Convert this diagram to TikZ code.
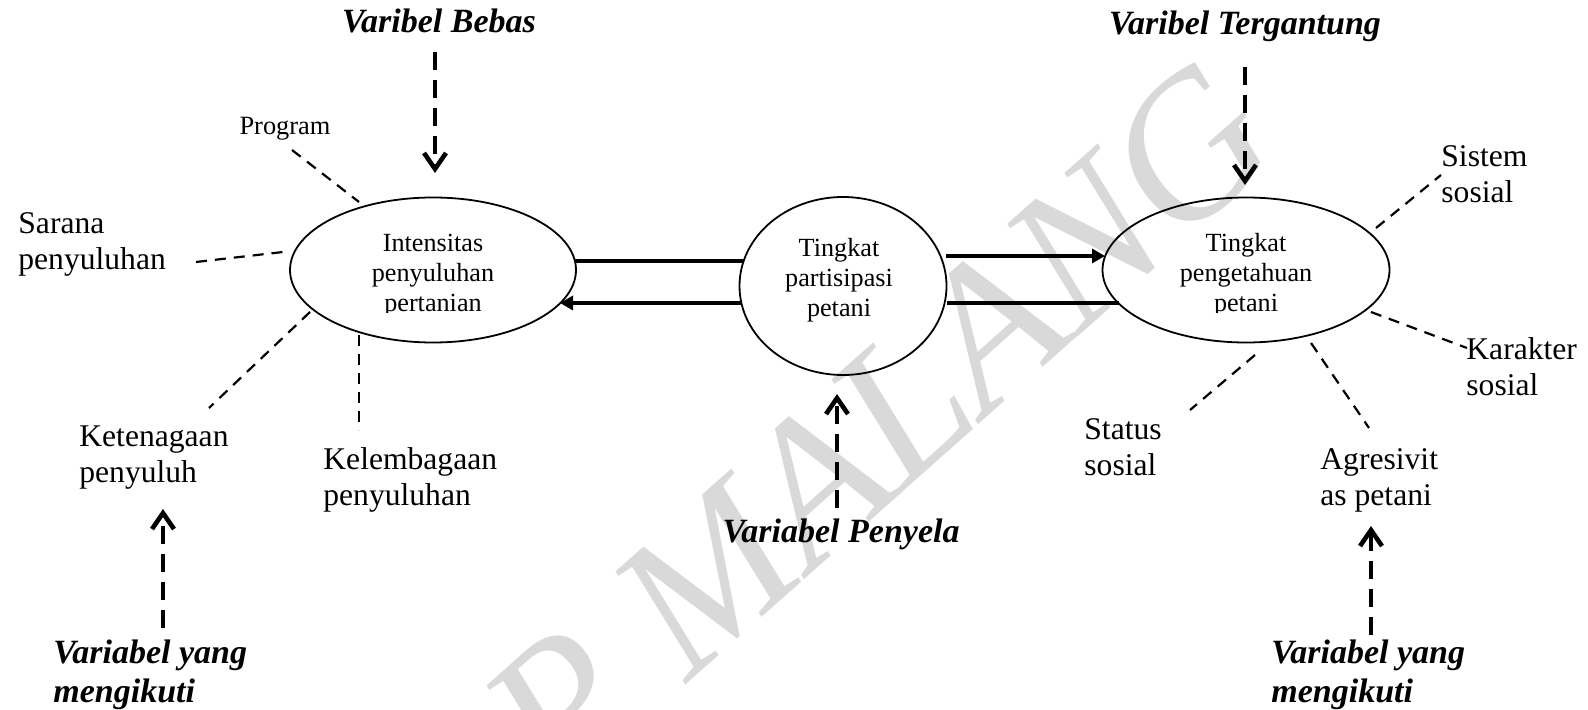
\documentclass[tikz,border=0pt]{standalone}
\usepackage{fontspec}
\setmainfont{Liberation Serif}
\usetikzlibrary{shapes.geometric, arrows.meta}
\begin{document}
\begin{tikzpicture}[x=0.5pt, y=-0.5pt,
  ell/.style={draw, ellipse, line width=0.9pt, inner sep=0pt},
  intext/.style={font=\fontsize{13.1}{15}\selectfont, align=center, inner sep=0pt, anchor=base},
  outtext/.style={font=\fontsize{15.8}{18}\selectfont, align=left, inner sep=0pt, anchor=base west},
  smalltext/.style={font=\fontsize{13.2}{15}\selectfont, inner sep=0pt, anchor=base},
  vartext/.style={font=\fontsize{17}{19.5}\selectfont\bfseries\itshape, align=left, inner sep=0pt},
  fdash/.style={dash pattern=on 5.5pt off 4pt, line width=1.1pt},
  vdash/.style={dash pattern=on 9pt off 5pt, line width=2.3pt, -{Straight Barb[length=8pt,width=11pt]}},
  solidline/.style={line width=2pt},
  solidarrow/.style={line width=2pt, -{Triangle[length=6.5pt,width=7pt]}},
  wmark/.style={text=black!15, font=\fontsize{100}{100}\selectfont\itshape, inner sep=0pt}
]
\useasboundingbox (0,0) rectangle (1588,710);

% watermark
\begin{scope}
  \clip (0,0) rectangle (1588,710);
  \node[wmark, rotate=41.6] (wm) at (879,426) {P MALANG};
\end{scope}

% ellipses
\node[ell, minimum width=143pt, minimum height=72.5pt] (e1) at (433,270) {};
\node[ell, minimum width=103.5pt, minimum height=89pt] (e2) at (843,286) {};
\node[ell, minimum width=143.5pt, minimum height=72.5pt] (e3) at (1246,270) {};

% ellipse texts (anchor = baseline of the last line)
\begin{scope}
  \clip (280,200) rectangle (590,313);
  \node[intext] (t1) at (433,312) {Intensitas\\penyuluhan\\pertanian};
\end{scope}
\node[intext] (t2) at (839,317) {Tingkat\\partisipasi\\petani};
\begin{scope}
  \clip (1090,200) rectangle (1400,313);
  \node[intext] (t3) at (1246,312) {Tingkat\\pengetahuan\\petani};
\end{scope}

% horizontal connectors
\coordinate (h1a) at (575,261); \coordinate (h1b) at (744,261);
\draw[solidline] (h1a) -- (h1b);
\coordinate (h2a) at (742,303); \coordinate (h2b) at (560,303);
\draw[solidarrow] (h2a) -- (h2b);
\coordinate (h3a) at (946,256); \coordinate (h3b) at (1105,256);
\draw[solidarrow] (h3a) -- (h3b);
\coordinate (h4a) at (947,303); \coordinate (h4b) at (1119,303);
\draw[solidline] (h4a) -- (h4b);

% variable labels
\node[vartext, anchor=base] (vb) at (439,33) {Varibel Bebas};
\node[vartext, anchor=base] (vt) at (1245,35) {Varibel Tergantung};
\node[vartext, anchor=base] (vp) at (841,542) {Variabel Penyela};
\node[vartext, anchor=base west] (vy1) at (53,702) {Variabel yang\\mengikuti};
\node[vartext, anchor=base west] (vy2) at (1271,702) {Variabel yang\\mengikuti};

\coordinate (vbA) at (435,52);   \coordinate (vbB) at (435,173);
\coordinate (vtA) at (1245,67);  \coordinate (vtB) at (1245,185);
\coordinate (vpA) at (837,508);  \coordinate (vpB) at (837,394);
\coordinate (vy1A) at (163,628); \coordinate (vy1B) at (163,509);
\coordinate (vy2A) at (1371,635);\coordinate (vy2B) at (1371,526);
\draw[vdash] (vbA) -- (vbB);
\draw[vdash] (vtA) -- (vtB);
\draw[vdash] (vpA) -- (vpB);
\draw[vdash] (vy1A) -- (vy1B);
\draw[vdash] (vy2A) -- (vy2B);

% outer labels (anchor = baseline of the last line)
\node[smalltext] (prog) at (285,135) {Program};
\node[outtext] (sar) at (18,270) {Sarana\\penyuluhan};
\node[outtext] (ket) at (79,482) {Ketenagaan\\penyuluh};
\node[outtext] (kel) at (323,505) {Kelembagaan\\penyuluhan};
\node[outtext] (sis) at (1441,203) {Sistem\\sosial};
\node[outtext] (kar) at (1466,396) {Karakter\\sosial};
\node[outtext] (sta) at (1084,475) {Status\\sosial};
\node[outtext] (agr) at (1320,505) {Agresivit\\as petani};

% thin dashed connectors
\coordinate (pA) at (292,150);  \coordinate (pB) at (359,202);
\coordinate (sA) at (196,262);  \coordinate (sB) at (283,252);
\coordinate (kA) at (310,312);  \coordinate (kB) at (209,408);
\coordinate (lA) at (359,335);  \coordinate (lB) at (359,430);
\coordinate (siA) at (1376,228); \coordinate (siB) at (1441,175);
\coordinate (kaA) at (1371,312); \coordinate (kaB) at (1467,348);
\coordinate (stA) at (1255,355); \coordinate (stB) at (1190,410);
\coordinate (agA) at (1311,343); \coordinate (agB) at (1369,428);
\draw[fdash] (pA) -- (pB);
\draw[fdash] (sA) -- (sB);
\draw[fdash] (kA) -- (kB);
\draw[fdash] (lA) -- (lB);
\draw[fdash] (siA) -- (siB);
\draw[fdash] (kaA) -- (kaB);
\draw[fdash] (stA) -- (stB);
\draw[fdash] (agA) -- (agB);
\end{tikzpicture}
\end{document}
